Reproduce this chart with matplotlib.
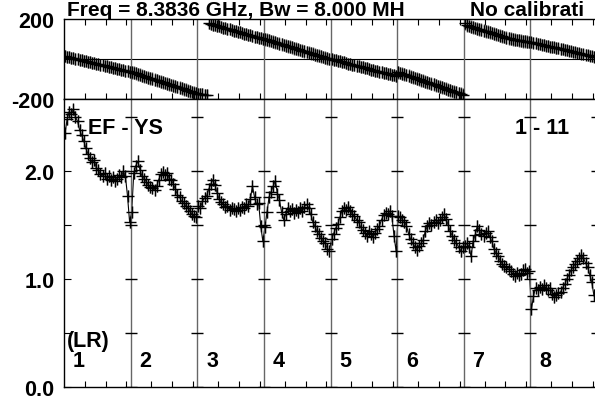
import numpy as np
import matplotlib.pyplot as plt

plt.rcParams['font.family'] = ['Liberation Sans', 'DejaVu Sans']
plt.rcParams['font.weight'] = 'bold'

# 64 channels per IF, every second channel
n_chan = 64
chans = np.arange(1, 64, 2)
if_names = ['1', '2', '3', '4', '5', '6', '7', '8']

# amplitude per IF
amp_if1 = [2.35, 2.48, 2.55, 2.53, 2.57, 2.50, 2.46, 2.38, 2.33, 2.28, 2.21, 2.16, 2.12, 2.08, 2.10, 2.03,
           2.01, 1.97, 1.95, 1.98, 1.93, 1.95, 1.92, 1.94, 1.91, 1.93, 1.96, 1.94, 2.00, 1.95, 1.77, 1.53]
amp_if2 = [1.62, 1.98, 2.05, 2.09, 2.01, 1.95, 1.93, 1.90, 1.87, 1.85, 1.84, 1.82, 1.86, 1.92, 1.97, 1.99,
           1.96, 1.98, 1.93, 1.92, 1.88, 1.83, 1.78, 1.76, 1.72, 1.70, 1.68, 1.66, 1.63, 1.60, 1.58, 1.57]
amp_if3 = [1.68, 1.66, 1.72, 1.75, 1.77, 1.83, 1.88, 1.92, 1.87, 1.80, 1.74, 1.71, 1.69, 1.67, 1.68, 1.64,
           1.66, 1.65, 1.63, 1.66, 1.64, 1.67, 1.66, 1.69, 1.68, 1.74, 1.86, 1.76, 1.69, 1.70, 1.49, 1.35]
amp_if4 = [1.48, 1.62, 1.76, 1.81, 1.86, 1.91, 1.79, 1.73, 1.62, 1.55, 1.60, 1.66, 1.63, 1.65, 1.61, 1.64,
           1.62, 1.66, 1.63, 1.67, 1.69, 1.66, 1.60, 1.53, 1.49, 1.44, 1.42, 1.38, 1.35, 1.33, 1.28, 1.26]
amp_if5 = [1.37, 1.42, 1.47, 1.51, 1.57, 1.63, 1.66, 1.64, 1.67, 1.63, 1.60, 1.58, 1.55, 1.53, 1.48, 1.45,
           1.43, 1.40, 1.44, 1.42, 1.39, 1.43, 1.46, 1.49, 1.55, 1.59, 1.61, 1.60, 1.63, 1.58, 1.40, 1.26]
amp_if6 = [1.58, 1.57, 1.55, 1.53, 1.49, 1.42, 1.37, 1.33, 1.30, 1.27, 1.31, 1.33, 1.36, 1.44, 1.49, 1.52,
           1.50, 1.53, 1.55, 1.52, 1.55, 1.57, 1.60, 1.56, 1.50, 1.44, 1.40, 1.36, 1.33, 1.30, 1.26, 1.30]
amp_if7 = [1.31, 1.33, 1.30, 1.21, 1.35, 1.41, 1.49, 1.45, 1.42, 1.40, 1.43, 1.44, 1.39, 1.35, 1.28, 1.24,
           1.21, 1.17, 1.14, 1.12, 1.11, 1.09, 1.07, 1.05, 1.03, 1.06, 1.04, 1.05, 1.08, 1.09, 1.06, 1.07]
amp_if8 = [0.72, 0.84, 0.92, 0.90, 0.93, 0.91, 0.94, 0.92, 0.90, 0.92, 0.86, 0.83, 0.85, 0.87, 0.88, 0.92,
           0.95, 1.00, 1.04, 1.08, 1.11, 1.14, 1.17, 1.19, 1.22, 1.19, 1.15, 1.11, 1.04, 0.97, 0.85, 0.80]

# phase per IF (degrees)
phase_if1 = [14, 12, 8, 6, 3, 1, -2, -4, -7, -10, -12, -14, -17, -20, -22, -24,
             -27, -30, -32, -35, -37, -40, -42, -45, -47, -50, -52, -55, -57, -60, -62, -65]
phase_if2 = [-66, -69, -72, -76, -79, -83, -86, -90, -93, -96, -99, -103, -106, -110, -113, -116,
             -120, -123, -127, -130, -133, -137, -140, -144, -147, -151, -154, -158, -161, -165, -168, -172]
phase_if3 = [-174, -176, -177, -179, -180, 178, 175, 172, 169, 166, 163, 160, 157, 154, 151, 148,
             145, 142, 139, 136, 133, 130, 127, 124, 121, 118, 115, 112, 109, 106, 103, 100]
phase_if4 = [99, 96, 93, 90, 86, 83, 80, 77, 74, 70, 67, 64, 61, 58, 54, 51,
             48, 45, 42, 38, 35, 32, 29, 26, 22, 19, 16, 13, 10, 6, 3, 0]
phase_if5 = [-1, -4, -7, -9, -12, -15, -17, -20, -23, -26, -28, -31, -34, -36, -39, -42,
             -45, -47, -50, -53, -55, -58, -61, -63, -66, -69, -72, -74, -77, -80, -82, -85]
phase_if6 = [-66, -70, -73, -77, -80, -84, -88, -91, -95, -98, -102, -106, -109, -113, -117, -120,
             -124, -127, -131, -135, -138, -142, -145, -149, -153, -156, -160, -163, -167, -171, -174, -178]
phase_if7 = [178, 168, 165, 162, 158, 155, 152, 149, 146, 142, 139, 136, 133, 130, 126, 123,
             120, 117, 114, 110, 107, 104, 101, 99, 97, 95, 93, 91, 89, 88, 86, 85]
phase_if8 = [84, 82, 79, 77, 74, 72, 70, 67, 65, 62, 60, 58, 55, 53, 50, 48,
             46, 43, 41, 38, 36, 34, 31, 29, 26, 24, 22, 19, 17, 14, 12, 10]
phase_err = [30, 32, 30, 32, 30, 32, 32, 28]

amps = [amp_if1, amp_if2, amp_if3, amp_if4, amp_if5, amp_if6, amp_if7, amp_if8]
phases = [phase_if1, phase_if2, phase_if3, phase_if4, phase_if5, phase_if6, phase_if7, phase_if8]

W, H = 595, 402
fig = plt.figure(figsize=(W / 100, H / 100), dpi=100)
# plot box runs past the right edge of the picture (it was cropped)
ax_p = fig.add_axes([64 / W, 1 - 100 / H, 533 / W, 80 / H])
ax_a = fig.add_axes([64 / W, 1 - 388 / H, 533 / W, 288 / H])

fs = 15.5
n_if = len(amps)
xmax = n_if * n_chan
tick_pos = [k * n_chan + c for k in range(n_if) for c in (20, 40, 60)]

x_all = np.concatenate([k * n_chan + chans for k in range(n_if)])
amp_all = np.concatenate(amps)

# phase panel
for k in range(n_if):
    ax_p.errorbar(k * n_chan + chans, phases[k], yerr=phase_err[k], fmt='+', color='k',
                  ecolor='0.3', elinewidth=1.0, ms=8, mew=1.0)
ax_p.axhline(0, color='k', lw=0.8)
for k in range(1, n_if + 1):
    ax_p.axvline(k * n_chan, color='0.4', lw=1.0)
ax_p.set_xlim(0, xmax)
ax_p.set_ylim(-200, 200)
ax_p.set_yticks([-200, 200])
ax_p.set_yticklabels(['-200', '200'], fontsize=fs, fontweight='bold')
ax_p.tick_params(axis='y', length=0, pad=7)
ax_p.set_xticks(tick_pos)
ax_p.tick_params(axis='x', direction='in', top=True, bottom=True, length=4, width=0.8,
                 labelbottom=False)

# amplitude panel
ax_a.plot(x_all, amp_all, '-', color='k', lw=0.8)
ax_a.errorbar(x_all, amp_all, yerr=0.055, fmt='+', color='k', ecolor='0.4',
              elinewidth=0.9, ms=9, mew=1.0)
amp_ticks = [0, 0.5, 1.0, 1.5, 2.0, 2.5]
for k in range(1, n_if + 1):
    ax_a.axvline(k * n_chan, color='0.4', lw=1.0)
    ax_a.plot([k * n_chan] * len(amp_ticks), amp_ticks, ls='none', marker='_',
              ms=9, mew=1.0, color='k')
ax_a.set_xlim(0, xmax)
ax_a.set_ylim(0, 288 / 108)
ax_a.set_yticks(amp_ticks)
ax_a.set_yticklabels(['0.0', '', '1.0', '', '2.0', ''], fontsize=fs, fontweight='bold')
ax_a.tick_params(axis='y', direction='in', length=5, width=0.8, pad=7)
ax_a.set_xticks(tick_pos)
ax_a.tick_params(axis='x', direction='in', length=4, width=0.8, labelbottom=False)

for ax in (ax_p, ax_a):
    for sp in ax.spines.values():
        sp.set_linewidth(1.0)

# labels inside the amplitude panel
for k, name in enumerate(if_names):
    ax_a.text(k * n_chan + 8.5, 0.19, name, fontsize=fs, fontweight='bold', ha='left', va='baseline')
ax_a.text(3, 0.38, '(LR)', fontsize=fs, fontweight='bold', ha='left', va='baseline')
ax_a.text(23, 2.35, 'EF - YS', fontsize=fs, fontweight='bold', ha='left', va='baseline')
ax_a.text(433, 2.35, '1 - 11', fontsize=fs, fontweight='bold', ha='left', va='baseline')

# header line along the top edge
fig.text(67 / W, 1 - 16 / H, 'Freq = 8.3836 GHz, Bw = 8.000 MH', fontsize=15,
         fontweight='bold', ha='left', va='baseline')
fig.text(470 / W, 1 - 16 / H, 'No calibrati', fontsize=15, fontweight='bold',
         ha='left', va='baseline')

fig.savefig('out.png', dpi=100)
